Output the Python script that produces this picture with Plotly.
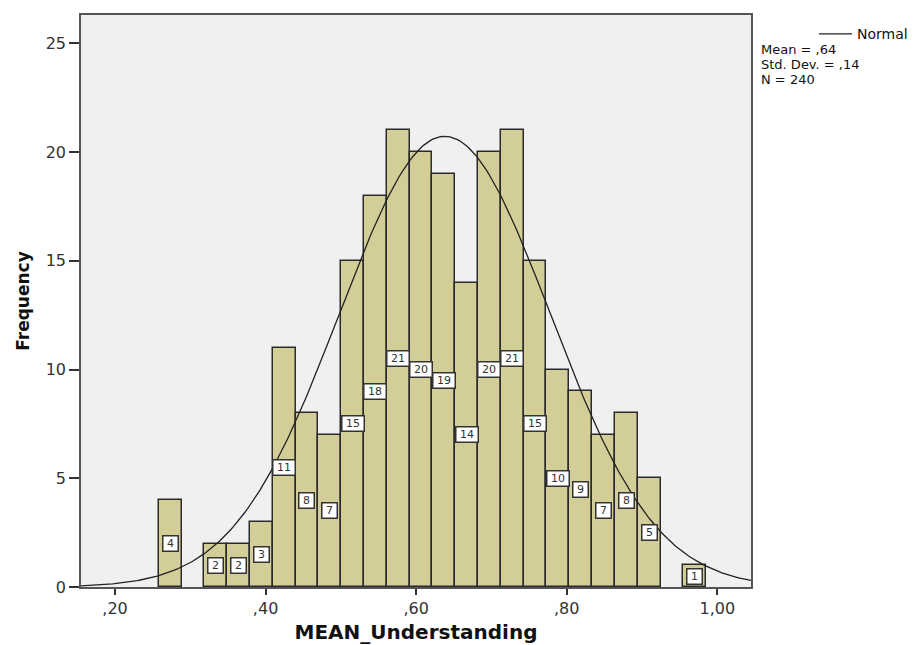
import numpy as np
import plotly.graph_objects as go

# ---- data ----
bin_start = 0.258
bin_width = 0.0303
counts = [4, 0, 2, 2, 3, 11, 8, 7, 15, 18, 21, 20, 19, 14, 20, 21, 15, 10, 9, 7, 8, 5, 0, 1]
mean_val = 0.638
sd_val = 0.14
n_val = 240
x_tickvals = [0.2, 0.4, 0.6, 0.8, 1.0]
x_ticktext = [",20", ",40", ",60", ",80", "1,00"]
y_tickvals = [0, 5, 10, 15, 20, 25]
legend_lines = ["Mean = ,64", "Std. Dev. = ,14", "N = 240"]

centers = [bin_start + bin_width * (i + 0.5) for i in range(len(counts))]
bx = [c for c, n in zip(centers, counts) if n > 0]
by = [n for n in counts if n > 0]

X0, X1 = 0.1548, 1.0448

fig = go.Figure()
fig.add_trace(go.Bar(
    x=bx, y=by, width=bin_width,
    marker=dict(color="#d3ce98", line=dict(color="#2a2a2a", width=1.5)),
    hoverinfo="skip", showlegend=False,
))

xs = np.linspace(X0, X1, 300)
ys = n_val * bin_width / (sd_val * np.sqrt(2 * np.pi)) * np.exp(-0.5 * ((xs - mean_val) / sd_val) ** 2)
fig.add_trace(go.Scatter(x=xs, y=ys, mode="lines", line=dict(color="#222", width=1.3),
                         hoverinfo="skip", showlegend=False))

font_main = "DejaVu Sans"
for c, n in zip(bx, by):
    fig.add_annotation(x=c, y=n / 2, text=str(n), showarrow=False,
                       width=19 if n >= 10 else 12, height=12,
                       bgcolor="white", bordercolor="#333", borderwidth=1.5, borderpad=1,
                       font=dict(family=font_main, size=11, color="#333"))

# legend-like text (paper coords relative to plot area spanning page px 81..751, 13..587)
def px(xp):
    return (xp - 81) / 670

def py(yp):
    return (587 - yp) / 574

fig.add_shape(type="line", xref="paper", yref="paper",
              x0=px(819), x1=px(852), y0=py(32), y1=py(32),
              line=dict(color="#222", width=1.2))
fig.add_annotation(xref="paper", yref="paper", x=px(856), y=py(32),
                   xanchor="left", yanchor="middle", text="Normal", showarrow=False,
                   borderpad=0,
                   font=dict(family=font_main, size=14, color="#111"))
for i, t in enumerate(legend_lines):
    fig.add_annotation(xref="paper", yref="paper", x=px(760),
                       y=py(47.5 + 15.2 * i),
                       xanchor="left", yanchor="middle", text=t, showarrow=False,
                       borderpad=0,
                       font=dict(family=font_main, size=13, color="#111"))

fig.update_layout(
    width=912, height=637,
    margin=dict(l=73, r=169, t=5, b=58),
    paper_bgcolor="white", plot_bgcolor="#f0f0f0",
    bargap=0,
    font=dict(family=font_main, size=16, color="#333"),
    xaxis=dict(range=[X0, X1], tickvals=x_tickvals, ticktext=x_ticktext,
               showgrid=False, zeroline=False, showline=True, linecolor="#555", linewidth=1.5,
               mirror=True, ticks="outside", ticklen=6, tickcolor="#333", tickwidth=1.5,
               tickfont=dict(size=16, color="#333"),
               title=dict(text="<b>MEAN_Understanding</b>", font=dict(size=20, color="#111"), standoff=8)),
    yaxis=dict(range=[0, 26.3], tickvals=y_tickvals,
               showgrid=False, zeroline=False, showline=True, linecolor="#555", linewidth=1.5,
               mirror=True, ticks="outside", ticklen=10, tickcolor="#333", tickwidth=1.5,
               tickfont=dict(size=16, color="#333"),
               title=dict(text="<b>Frequency</b>", font=dict(size=17, color="#111"), standoff=12)),
)

fig.write_html("out.html")
